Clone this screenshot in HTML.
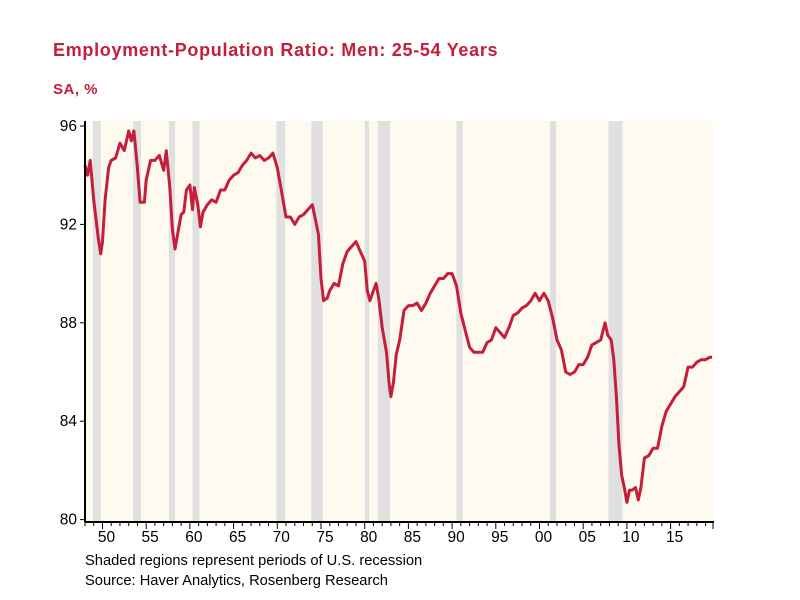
<!DOCTYPE html>
<html><head><meta charset="utf-8"><style>
body{margin:0;background:#fff;width:800px;height:600px;overflow:hidden;font-family:"Liberation Sans",sans-serif}
svg{position:absolute;left:0;top:0}
</style></head><body>
<svg id="c" width="800" height="600">
<text x="53" y="56" font-size="18" font-weight="bold" letter-spacing="0.7" fill="#c41e3a">Employment-Population Ratio: Men: 25-54 Years</text>
<text x="53" y="94" font-size="15" font-weight="bold" letter-spacing="0.5" fill="#c41e3a">SA, %</text>
<text x="85" y="565" font-size="14.7" fill="#000">Shaded regions represent periods of U.S. recession</text>
<text x="85" y="585" font-size="14.7" fill="#000">Source: Haver Analytics, Rosenberg Research</text>
</svg>
<script>
const years=[1948,1948.3,1948.6,1949,1949.5,1949.8,1950,1950.3,1950.7,1951,1951.5,1952,1952.5,1953,1953.3,1953.6,1954,1954.3,1954.8,1955,1955.5,1956,1956.5,1957,1957.3,1957.7,1958,1958.3,1958.7,1959,1959.3,1959.6,1960,1960.3,1960.5,1960.9,1961.2,1961.5,1962,1962.5,1963,1963.5,1964,1964.5,1965,1965.5,1966,1966.5,1967,1967.5,1968,1968.5,1969,1969.5,1970,1970.5,1971,1971.5,1972,1972.5,1973,1973.5,1974,1974.3,1974.7,1975,1975.3,1975.7,1976,1976.5,1977,1977.5,1978,1978.5,1979,1979.5,1980,1980.3,1980.6,1981,1981.3,1981.6,1982,1982.5,1982.8,1983,1983.3,1983.6,1984,1984.5,1985,1985.5,1986,1986.5,1987,1987.5,1988,1988.5,1989,1989.5,1990,1990.5,1991,1991.5,1992,1992.5,1993,1993.5,1994,1994.5,1995,1995.5,1996,1996.5,1997,1997.5,1998,1998.5,1999,1999.5,2000,2000.5,2001,2001.5,2002,2002.5,2003,2003.5,2004,2004.5,2005,2005.5,2006,2006.5,2007,2007.5,2007.8,2008.2,2008.5,2008.8,2009.1,2009.4,2009.7,2010,2010.3,2010.6,2011,2011.3,2011.6,2012,2012.5,2013,2013.5,2014,2014.5,2015,2015.5,2016,2016.5,2017,2017.5,2018,2018.5,2019,2019.5,2019.75];
const ratio=[94.4,94.0,94.6,93,91.5,90.8,91.3,93,94.3,94.6,94.7,95.3,95.0,95.8,95.4,95.8,94.3,92.9,92.9,93.8,94.6,94.6,94.8,94.2,95.0,93.5,91.8,91.0,91.8,92.4,92.5,93.4,93.6,92.6,93.5,92.8,91.9,92.5,92.8,93.0,92.9,93.4,93.4,93.8,94.0,94.1,94.4,94.6,94.9,94.7,94.8,94.6,94.7,94.9,94.3,93.3,92.3,92.3,92.0,92.3,92.4,92.6,92.8,92.3,91.6,89.8,88.9,89.0,89.3,89.6,89.5,90.4,90.9,91.1,91.3,90.9,90.5,89.3,88.9,89.3,89.6,89.0,87.8,86.8,85.5,85.0,85.6,86.7,87.3,88.5,88.7,88.7,88.8,88.5,88.8,89.2,89.5,89.8,89.8,90.0,90.0,89.5,88.4,87.7,87.0,86.8,86.8,86.8,87.2,87.3,87.8,87.6,87.4,87.8,88.3,88.4,88.6,88.7,88.9,89.2,88.9,89.2,88.9,88.2,87.3,86.9,86.0,85.9,86.0,86.3,86.3,86.6,87.1,87.2,87.3,88.0,87.5,87.3,86.5,85.0,83.0,81.8,81.3,80.7,81.2,81.2,81.3,80.8,81.3,82.5,82.6,82.9,82.9,83.8,84.4,84.7,85.0,85.2,85.4,86.2,86.2,86.4,86.5,86.5,86.6,86.6];
const recStart=[1948.9,1953.5,1957.6,1960.3,1969.9,1973.9,1980.0,1981.5,1990.5,2001.2,2007.9];
const recEnd=[1949.8,1954.4,1958.3,1961.1,1970.9,1975.2,1980.5,1982.9,1991.2,2001.9,2009.5];
const yTicks=[80,84,88,92,96];
const xLabelYears=[1950,1955,1960,1965,1970,1975,1980,1985,1990,1995,2000,2005,2010,2015];
const xLabels=["50","55","60","65","70","75","80","85","90","95","00","05","10","15"];
const X0=85,X1=713,Y0=121,Y1=522,xmin=1948,xmax=2019.85;
const sx=v=>X0+(v-xmin)/(xmax-xmin)*(X1-X0);
const sy=v=>126+(96-v)*24.6;
const svg=document.getElementById('c');const NS='http://www.w3.org/2000/svg';
function mk(t,a){const e=document.createElementNS(NS,t);for(const k in a)e.setAttribute(k,a[k]);svg.appendChild(e);return e;}
let bg=mk('rect',{x:X0,y:Y0,width:X1-X0,height:Y1-Y0,fill:'#fffaef'});


recStart.forEach((s,i)=>{const r=mk('rect',{x:sx(s),y:Y0,width:sx(recEnd[i])-sx(s),height:Y1-Y0,fill:'#e0e0e0'});

});
let d=years.map((y,i)=>(i?'L':'M')+sx(y).toFixed(1)+','+sy(ratio[i]).toFixed(1)).join('');
let ln=mk('path',{d:d,fill:'none',stroke:'#c41e3a','stroke-width':3,'stroke-linejoin':'round'});


let ya=mk('line',{x1:X0,y1:Y0,x2:X0,y2:Y1,stroke:'#000','stroke-width':2});


let xa=mk('line',{x1:X0,y1:Y1,x2:X1+1,y2:Y1,stroke:'#000','stroke-width':2});


yTicks.forEach(v=>{mk('line',{x1:X0-5,y1:sy(v),x2:X0,y2:sy(v),stroke:'#000','stroke-width':1});
const t=mk('text',{x:X0-8,y:sy(v)+5,'font-size':15.5,'text-anchor':'end',fill:'#000'});t.textContent=v;

});
for(let y=1948;y<=2019;y++){const x=sx(y);mk('line',{x1:x,y1:Y1,x2:x,y2:Y1+(y%5==0?7:4),stroke:'#000','stroke-width':1});}
mk('line',{x1:X1,y1:Y1,x2:X1,y2:Y1+7,stroke:'#000','stroke-width':1});
xLabelYears.forEach((y,i)=>{const t=mk('text',{x:sx(y)+4,y:Y1+20,'font-size':15.5,'text-anchor':'middle',fill:'#000'});t.textContent=xLabels[i];

});
</script>
</body></html>
